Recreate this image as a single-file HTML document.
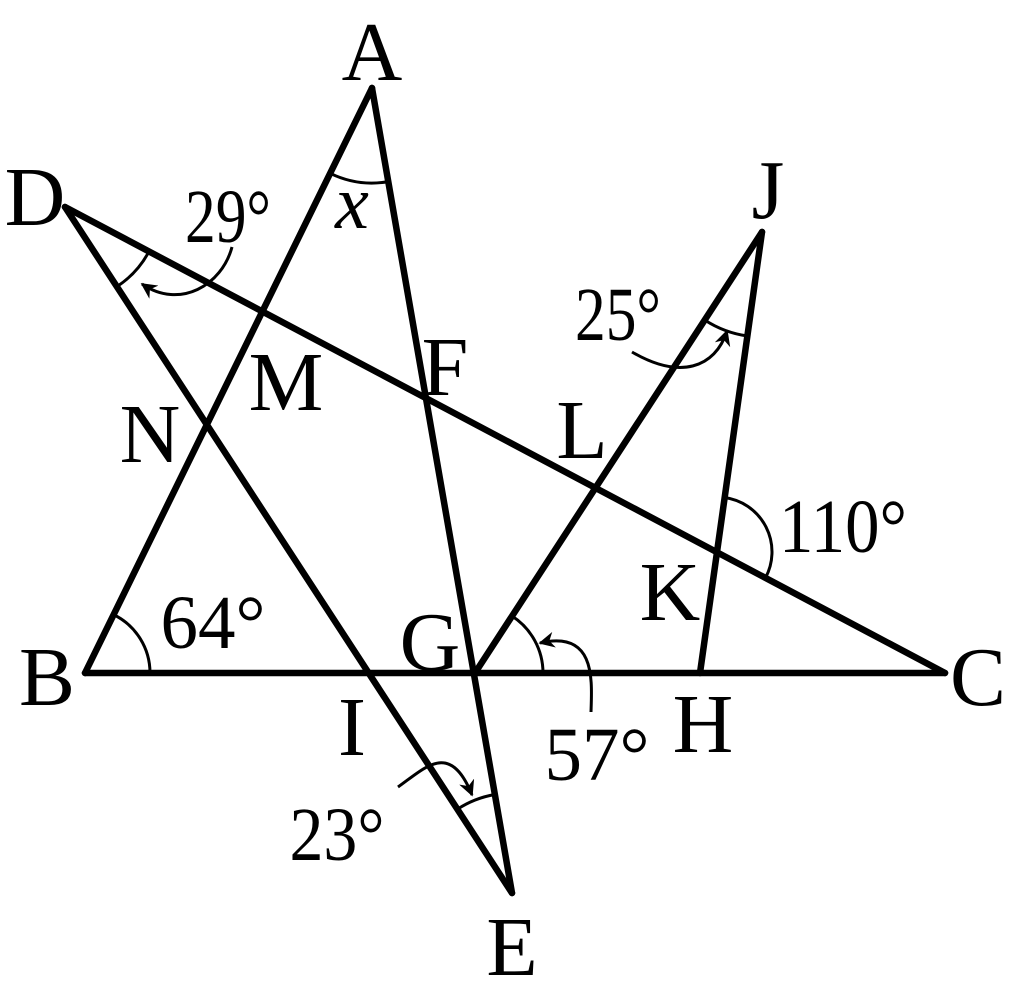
<!DOCTYPE html>
<html><head><meta charset="utf-8"><style>
html,body{margin:0;padding:0;background:#fff;}
svg{display:block;}
text{font-family:"Liberation Serif","DejaVu Serif",serif;fill:#000;}
</style></head><body>
<svg width="1012" height="1003" viewBox="0 0 1012 1003" xmlns="http://www.w3.org/2000/svg">
<defs>
<marker id="ah" viewBox="0 0 10 10" refX="9" refY="5" markerWidth="16" markerHeight="16" orient="auto" markerUnits="userSpaceOnUse">
<path d="M0,0 L10,5 L0,10 L3,5 Z" fill="#000"/>
</marker>
</defs>
<g stroke="#000" stroke-width="6.5" stroke-linecap="round" stroke-linejoin="round" fill="none">
<line x1="372" y1="88" x2="85" y2="673"/>
<line x1="372" y1="88" x2="512" y2="893"/>
<line x1="65" y1="207" x2="945" y2="673"/>
<line x1="65" y1="207" x2="512" y2="893"/>
<line x1="85" y1="673" x2="945" y2="673"/>
<line x1="475" y1="673" x2="762" y2="232"/>
<line x1="762" y1="232" x2="700" y2="673"/>
</g>
<g stroke="#000" stroke-width="3" fill="none">
<path d="M330.2,173.3 A95,95 0 0 0 388.3,181.6"/>
<path d="M116.9,286.6 A95,95 0 0 0 149,251.5"/>
<path d="M704.7,320 A105,105 0 0 0 747.4,336"/>
<path d="M724.7,497.5 A55,55 0 0 1 765.6,577.7"/>
<path d="M150,673 A65,65 0 0 0 113.6,614.6"/>
<path d="M543,673 A68,68 0 0 0 512,616"/>
<path d="M457.4,809.2 A100,100 0 0 1 494.9,794.5"/>
<path d="M232,247 C222,285 180,310 142,284" marker-end="url(#ah)"/>
<path d="M632,352 C680,380 715,368 727,331" marker-end="url(#ah)"/>
<path d="M591,712 C592,680 596,630 540,643" marker-end="url(#ah)"/>
<path d="M398,787 C425,768 450,740 472,795" marker-end="url(#ah)"/>
</g>
<g font-size="84" text-anchor="middle">
<text x="372" y="80">A</text>
<text x="35" y="225">D</text>
<text x="286" y="410">M</text>
<text x="150" y="462">N</text>
<text x="445" y="395">F</text>
<text x="582" y="458">L</text>
<text x="768" y="218">J</text>
<text x="670" y="620">K</text>
<text x="47" y="705">B</text>
<text x="430" y="670">G</text>
<text x="978" y="705">C</text>
<text x="352" y="755">I</text>
<text x="703" y="752">H</text>
<text x="512" y="975">E</text>
</g>
<g font-size="76" text-anchor="middle">
<text x="228" y="242" textLength="86" lengthAdjust="spacingAndGlyphs">29°</text>
<text x="618" y="340" textLength="86" lengthAdjust="spacingAndGlyphs">25°</text>
<text x="843" y="552" textLength="128" lengthAdjust="spacingAndGlyphs">110°</text>
<text x="213" y="648" textLength="105" lengthAdjust="spacingAndGlyphs">64°</text>
<text x="597" y="780" textLength="105" lengthAdjust="spacingAndGlyphs">57°</text>
<text x="337" y="860" textLength="95" lengthAdjust="spacingAndGlyphs">23°</text>
<text x="352" y="228" font-style="italic">x</text>
</g>
</svg>
</body></html>
